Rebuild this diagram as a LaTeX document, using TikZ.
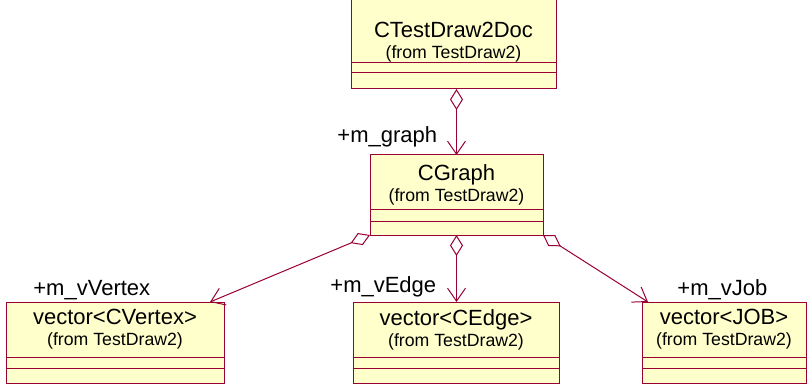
\documentclass[tikz,border=0pt]{standalone}
\usepackage{fontspec}
\setmainfont{Liberation Sans}
\usepackage{tikz}
\usetikzlibrary{arrows.meta, positioning}

\definecolor{umlred}{RGB}{153,0,51}
\definecolor{umlfill}{RGB}{255,255,204}
\newcommand{\frompkg}{{\fontsize{8.85}{10.5}\selectfont (from TestDraw2)}}

\begin{document}
\begin{tikzpicture}[
        x=0.5pt, y=-0.5pt,
        classname/.style={draw=umlred, fill=umlfill, line width=0.5pt, inner sep=0pt, outer sep=0pt,
            minimum height=27pt, align=center, font=\fontsize{11}{10.5}\selectfont},
        classpart/.style={draw=umlred, fill=umlfill, line width=0.5pt, inner sep=0pt, outer sep=0pt},
        assoc/.style={draw=umlred, line width=0.5pt,
            {Diamond[open, length=10.5pt, width=6.5pt]}-{Straight Barb[length=6.5pt, width=9pt]}},
        role/.style={anchor=base west, inner sep=0pt, font=\fontsize{11}{13}\selectfont}
    ]
        \useasboundingbox (0,0) rectangle (809,385);

        % Document class
        \node[classname, minimum width=102.5pt, minimum height=32.5pt] (doc) at (453.5,30.5)
            {\rule{0pt}{19pt}CTestDraw2Doc\\\frompkg};
        \node[classpart, minimum width=102.5pt, minimum height=5pt, below=0pt of doc] (doc-a) {};
        \node[classpart, minimum width=102.5pt, minimum height=8pt, below=0pt of doc-a] (doc-o) {};

        % Graph class
        \node[classname, minimum width=86.5pt] (graph) at (456.5,182) {\rule{0pt}{10.5pt}CGraph\\\frompkg};
        \node[classpart, minimum width=86.5pt, minimum height=6pt, below=0pt of graph] (graph-a) {};
        \node[classpart, minimum width=86.5pt, minimum height=7pt, below=0pt of graph-a] (graph-o) {};

        % Containers
        \node[classname, minimum width=109pt, minimum height=27.5pt] (vertex) at (115,329.5) {vector<CVertex>\\\frompkg};
        \node[classpart, minimum width=109pt, minimum height=5.5pt, below=0pt of vertex] (vertex-a) {};
        \node[classpart, minimum width=109pt, minimum height=7.5pt, below=0pt of vertex-a] (vertex-o) {};

        \node[classname, minimum width=103pt, minimum height=27.5pt] (edge) at (456,329.5) {vector<CEdge>\\\frompkg};
        \node[classpart, minimum width=103pt, minimum height=5.5pt, below=0pt of edge] (edge-a) {};
        \node[classpart, minimum width=103pt, minimum height=7.5pt, below=0pt of edge-a] (edge-o) {};

        \node[classname, minimum width=82pt, minimum height=27.5pt] (job) at (724,329.5) {vector<JOB>\\\frompkg};
        \node[classpart, minimum width=82pt, minimum height=5.5pt, below=0pt of job] (job-a) {};
        \node[classpart, minimum width=82pt, minimum height=7.5pt, below=0pt of job-a] (job-o) {};

        % Aggregations
        \draw[assoc] (doc-o.south -| graph.north) -- (graph.north);
        \draw[assoc] (graph-o.south west) -- ([xshift=-7pt]vertex.north east);
        \draw[assoc] (graph-o.south) -- (graph-o.south |- edge.north);
        \draw[assoc] (graph-o.south east) -- ([xshift=3pt]job.north west);

        % Role names
        \node[role] (graph-role) at (337,143) {+m\_graph};
        \node[role] (vertex-role) at (33,295) {+m\_vVertex};
        \node[role] (edge-role) at (330,292) {+m\_vEdge};
        \node[role] (job-role) at (677,295) {+m\_vJob};

    \end{tikzpicture}
\end{document}
